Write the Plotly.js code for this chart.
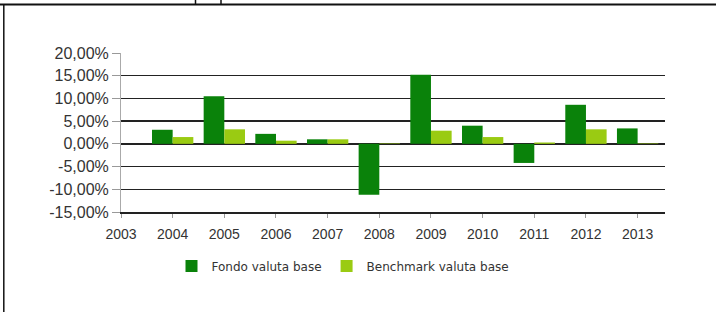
<!DOCTYPE html>
<html>
<head>
<meta charset="utf-8">
<script src="https://cdn.plot.ly/plotly-3.0.1.min.js"></script>
<style>
html,body{margin:0;padding:0;background:#fff;}
#chart{width:716px;height:312px;}
</style>
</head>
<body>
<div id="chart"></div>
<script>
// ---- data ----
var years = [2004, 2005, 2006, 2007, 2008, 2009, 2010, 2011, 2012, 2013];
var fondo = [3.1, 10.5, 2.2, 1.0, -11.2, 15.2, 4.0, -4.2, 8.6, 3.4];
var benchmark = [1.5, 3.2, 0.7, 1.0, 0.1, 2.9, 1.5, 0.3, 3.2, 0.1];
var xTicks = [2003, 2004, 2005, 2006, 2007, 2008, 2009, 2010, 2011, 2012, 2013];
var yTicks = [-15, -10, -5, 0, 5, 10, 15, 20];
var yTickText = ['-15,00%', '-10,00%', '-5,00%', '0,00%', '5,00%', '10,00%', '15,00%', '20,00%'];
var seriesNames = ['Fondo valuta base', 'Benchmark valuta base'];

// ---- layout helpers ----
var W = 716, H = 312;
var M = {l: 121, r: 51, t: 53, b: 100};
var pw = W - M.l - M.r, ph = H - M.t - M.b;
function px2x(px){ return (px - M.l) / pw; }
function py2y(py){ return (H - M.b - py) / ph; }

var frame = '#111';
var shapes = [
  {type:'line', xref:'paper', yref:'paper', x0:px2x(0), x1:px2x(716), y0:py2y(4.5), y1:py2y(4.5), line:{color:frame, width:2}},
  {type:'line', xref:'paper', yref:'paper', x0:px2x(3.8), x1:px2x(3.8), y0:py2y(4.5), y1:py2y(312), line:{color:frame, width:1.5}},
  {type:'line', xref:'paper', yref:'paper', x0:px2x(195.5), x1:px2x(195.5), y0:py2y(0), y1:py2y(4.5), line:{color:frame, width:1.5}},
  {type:'line', xref:'paper', yref:'paper', x0:px2x(221), x1:px2x(221), y0:py2y(0), y1:py2y(4.5), line:{color:frame, width:1.5}}
];

var data = [
  {type:'bar', x:years, y:fondo, name:seriesNames[0], marker:{color:'#0a820a'}, hoverinfo:'none'},
  {type:'bar', x:years, y:benchmark, name:seriesNames[1], marker:{color:'#9acb12'}, hoverinfo:'none'}
];

var layout = {
  width: W, height: H,
  margin: M,
  paper_bgcolor:'#fff', plot_bgcolor:'#fff',
  barmode:'group', bargap:0.2, bargroupgap:0,
  showlegend:true,
  legend:{orientation:'h', x:px2x(343), xanchor:'center', y:py2y(266), yanchor:'middle',
          font:{family:'DejaVu Sans', size:12, color:'#333'}, itemwidth:30, traceorder:'normal'},
  xaxis:{
    type:'linear', range:[2003, 2013.53], tickmode:'array', tickvals:xTicks,
    tickformat:'d', showgrid:false, zeroline:false,
    showline:true, linecolor:'#222', linewidth:1.5,
    ticks:'outside', ticklen:4, tickcolor:'#999', tickwidth:1,
    tickfont:{family:'Liberation Sans Narrow, Liberation Sans, Arial, sans-serif', size:14, color:'#333'},
    ticklabelstandoff:5
  },
  yaxis:{
    range:[-15, 20], tickmode:'array', tickvals:yTicks, ticktext:yTickText,
    showgrid:true, gridcolor:'#222', gridwidth:1.5,
    zeroline:true, zerolinecolor:'#222', zerolinewidth:1.5,
    showline:true, linecolor:'#aaa', linewidth:1,
    ticks:'outside', ticklen:8, tickcolor:'#999', tickwidth:1,
    tickfont:{family:'Liberation Sans, Arial, sans-serif', size:16, color:'#333'}
  },
  shapes: shapes
};

Plotly.newPlot('chart', data, layout, {staticPlot:true, displayModeBar:false});
</script>
</body>
</html>
